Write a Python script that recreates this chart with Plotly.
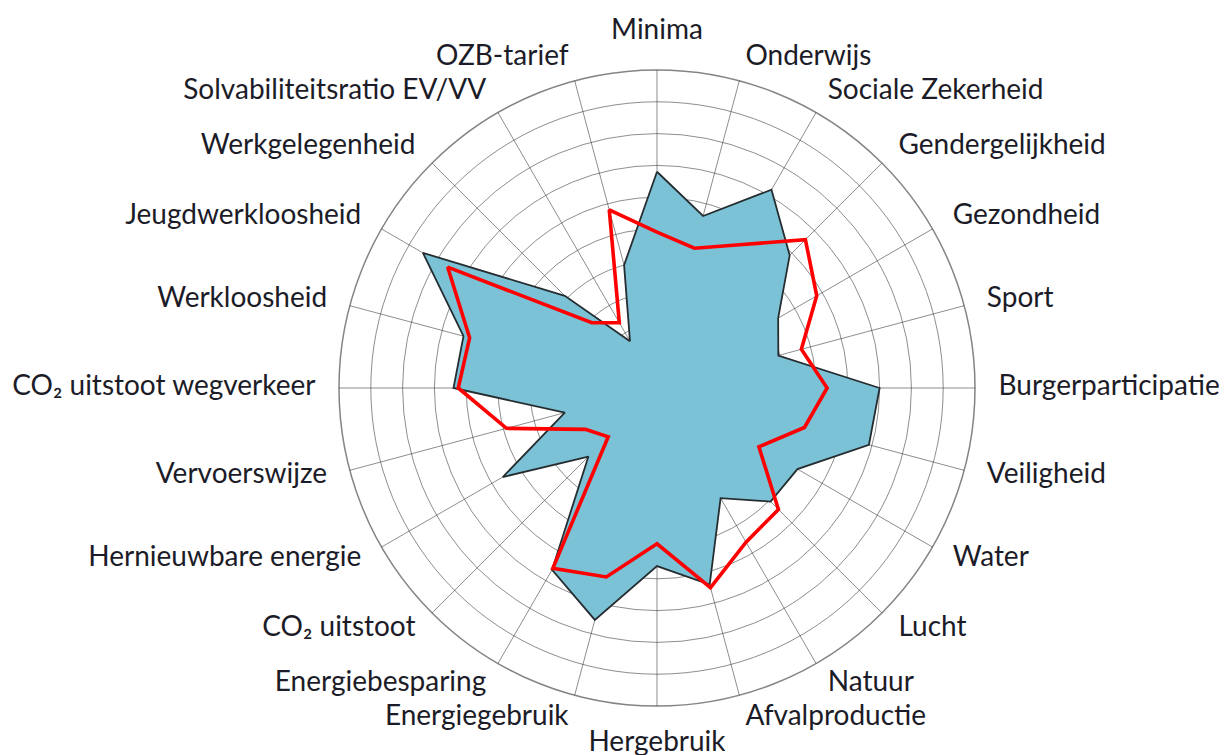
import plotly.graph_objects as go

categories = [
    "Minima", "Onderwijs", "Sociale Zekerheid", "Gendergelijkheid", "Gezondheid",
    "Sport", "Burgerparticipatie", "Veiligheid", "Water", "Lucht", "Natuur",
    "Afvalproductie", "Hergebruik", "Energiegebruik", "Energiebesparing",
    "CO₂ uitstoot", "Hernieuwbare energie", "Vervoerswijze",
    "CO₂ uitstoot wegverkeer", "Werkloosheid", "Jeugdwerkloosheid",
    "Werkgelegenheid", "Solvabiliteitsratio EV/VV", "OZB-tarief",
]

blue_values = [6.8, 5.6, 7.2, 5.9, 4.4, 3.95, 7.0, 6.9, 5.1, 5.05, 4.0, 6.4,
               5.6, 7.55, 6.6, 3.05, 5.6, 3.0, 6.4, 6.3, 8.5, 4.1, 1.7, 4.0]
red_values = [4.9, 4.55, 5.2, 6.6, 5.8, 4.7, 5.35, 4.8, 3.7, 5.4, 5.6, 6.5,
              4.9, 6.15, 6.55, 2.17, 2.6, 4.9, 6.25, 6.1, 7.6, 2.9, 2.37, 5.8]

radial_ticks = list(range(0, 11))
r_max = 10
label_r = 10.75  # radius (in data units) of the ring on which category labels sit

theta_closed = categories + categories[:1]

n = len(categories)
label_pos = []
for i in range(n):
    ang = 360.0 * i / n
    if ang == 0:
        label_pos.append("top center")
    elif ang == 180:
        label_pos.append("bottom center")
    elif ang < 180:
        label_pos.append("middle right")
    else:
        label_pos.append("middle left")

fig = go.Figure()
fig.add_trace(go.Scatterpolar(
    r=blue_values + blue_values[:1], theta=theta_closed,
    mode="lines", fill="toself", fillcolor="#7BC2D6",
    line=dict(color="#262d31", width=1.8), subplot="polar",
    showlegend=False, hoverinfo="skip",
))
fig.add_trace(go.Scatterpolar(
    r=red_values + red_values[:1], theta=theta_closed,
    mode="lines", line=dict(color="#FF0000", width=3.6), subplot="polar2",
    showlegend=False, hoverinfo="skip",
))
fig.add_trace(go.Scatterpolar(
    r=[label_r] * n, theta=categories, text=categories,
    mode="text", textposition=label_pos, cliponaxis=False,
    textfont=dict(family="Lato", size=28, color="#1c1c28"),
    subplot="polar3", showlegend=False, hoverinfo="skip",
))

W, H = 1227, 755
# page body margin of 8px shifts the figure; compensate so the chart lands
# where the reference has it
cx, cy, R = 657 - 8, 388 - 8, 318
R3 = R * label_r / r_max


def domain(radius):
    return (dict(x=[(cx - radius) / W, (cx + radius) / W],
                 y=[(H - cy - radius) / H, (H - cy + radius) / H]))


grid = "rgba(50,50,50,0.55)"
common_radial = dict(range=[0, r_max], tickvals=radial_ticks, showticklabels=False,
                     ticks="", showline=False)
hidden_angular = dict(type="category", categoryarray=categories,
                      rotation=90, direction="clockwise",
                      showgrid=False, showline=False, showticklabels=False, ticks="")
fig.update_layout(
    width=W, height=H,
    margin=dict(l=0, r=0, t=0, b=0),
    paper_bgcolor="white",
    font=dict(family="Lato", size=28, color="#1c1c28"),
    polar=dict(
        domain=domain(R),
        bgcolor="white",
        radialaxis=dict(**common_radial, showgrid=True, gridcolor=grid, gridwidth=1.3,
                        layer="above traces"),
        angularaxis=dict(type="category", categoryarray=categories,
                         rotation=90, direction="clockwise",
                         showgrid=True, gridcolor=grid, gridwidth=1.3,
                         showline=True, linecolor="rgba(50,50,50,0.6)", linewidth=1.5,
                         showticklabels=False, ticks="",
                         layer="above traces"),
    ),
    polar2=dict(
        domain=domain(R),
        bgcolor="rgba(0,0,0,0)",
        radialaxis=dict(**common_radial, showgrid=False),
        angularaxis=hidden_angular,
    ),
    polar3=dict(
        domain=domain(R3),
        bgcolor="rgba(0,0,0,0)",
        radialaxis=dict(range=[0, label_r * 1.001], showticklabels=False, ticks="",
                        showline=False, showgrid=False),
        angularaxis=hidden_angular,
    ),
)

fig.write_html("out.html")
